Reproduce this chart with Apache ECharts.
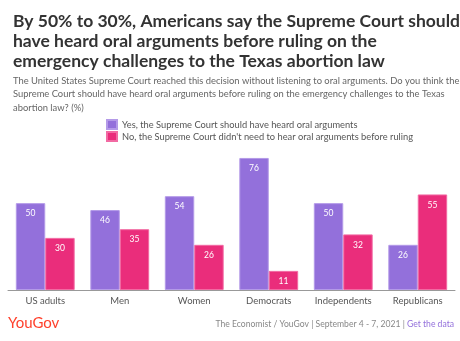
<!DOCTYPE html>
<html><head><meta charset="utf-8">
<script src="https://cdn.jsdelivr.net/npm/echarts@6/dist/echarts.min.js"></script>
<style>html,body{margin:0;padding:0;background:#fff}#c{width:460px;height:341px}</style>
</head><body><div id="c"></div>
<script>
const categories = ['US adults','Men','Women','Democrats','Independents','Republicans'];
const yesName = 'Yes, the Supreme Court should have heard oral arguments';
const noName = "No, the Supreme Court didn't need to hear oral arguments before ruling";
const yesValues = [50,46,54,76,50,26];
const noValues = [30,35,26,11,32,55];

const chart = echarts.init(document.getElementById('c'), null, {renderer:'canvas'});
const F = 'Lato, "Open Sans", sans-serif';
chart.setOption({
  animation:false,
  title:[{
    text:'By 50% to 30%, Americans say the Supreme Court should\nhave heard oral arguments before ruling on the\nemergency challenges to the Texas abortion law',
    left:8, top:6,
    textStyle:{fontFamily:F, fontSize:17.5, fontWeight:'bold', color:'#333', lineHeight:20}
  },{
    text:'The United States Supreme Court reached this decision without listening to oral arguments. Do you think the\nSupreme Court should have heard oral arguments before ruling on the emergency challenges to the Texas\nabortion law? (%)',
    left:8, top:69,
    textStyle:{fontFamily:F, fontSize:9.4, fontWeight:'normal', color:'#666', lineHeight:13.5}
  }],
  legend:{
    orient:'vertical', left:101, top:114, itemWidth:10, itemHeight:9, itemGap:1,
    icon:'rect',
    textStyle:{fontFamily:F, fontSize:9.3, color:'#555', padding:[0,0,0,0], lineHeight:11}
    ,data:[yesName,noName]
  },
  grid:{left:8, right:5, top:151, bottom:51, containLabel:false},
  xAxis:{
    type:'category', data:categories,
    axisLine:{lineStyle:{color:'#999', width:1}},
    axisTick:{show:false},
    axisLabel:{fontFamily:F, fontSize:9.5, color:'#555', margin:6}
  },
  yAxis:{type:'value', min:0, max:80, show:false, splitLine:{show:false}},
  series:[{
    name:yesName, type:'bar', data:yesValues, barGap:'0%', barCategoryGap:'21%',
    itemStyle:{color:'#9370DB', borderColor:'#b49ae8', borderWidth:1},
    label:{show:true, position:'insideTop', distance:6, color:'#fff', fontFamily:F, fontSize:8.5}
  },{
    name:noName, type:'bar', data:noValues,
    itemStyle:{color:'#ea2d7b', borderColor:'#f26aa3', borderWidth:1},
    label:{show:true, position:'insideTop', distance:6, color:'#fff', fontFamily:F, fontSize:8.5}
  }],
  graphic:[{
    type:'text', left:8, top:316,
    style:{text:'YouGov', fontFamily:F, fontSize:15, fill:'#ff412c', fontWeight:'normal'}
  },{
    type:'text', right:6, top:320,
    style:{
      text:'{a|The Economist / YouGov | September 4 - 7, 2021 | }{b|Get the data}',
      rich:{
        a:{fontFamily:F, fontSize:8.6, fill:'#888', color:'#888'},
        b:{fontFamily:F, fontSize:8.6, fill:'#9370DB', color:'#9370DB'}
      }
    }
  }]
});
</script></body></html>
